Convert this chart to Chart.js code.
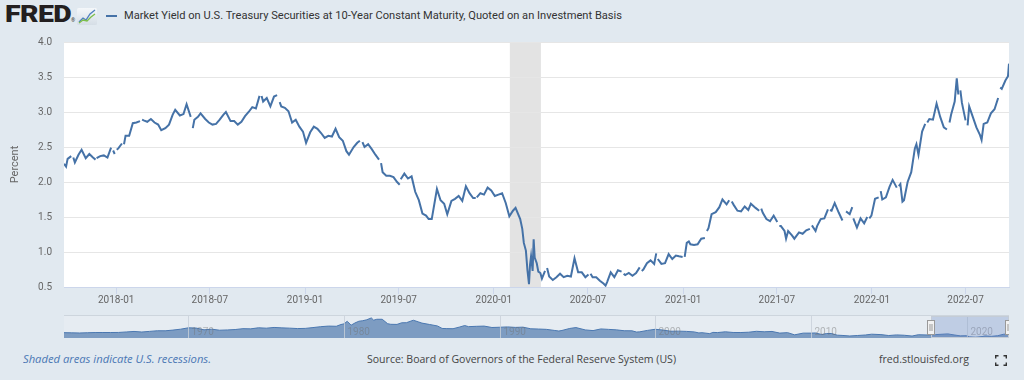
<!DOCTYPE html>
<html>
<head>
<meta charset="utf-8">
<script src="https://cdn.jsdelivr.net/npm/chart.js@4.4.0/dist/chart.umd.min.js"></script>
<style>
  html, body { margin: 0; padding: 0; }
  body { width: 1024px; height: 380px; background: #e1e9f0; position: relative; overflow: hidden; font-family: 'Open Sans', sans-serif; }
  .txt { position: absolute; white-space: nowrap; transform-origin: 0 50%; line-height: 14px; }
  #main { position: absolute; left: 0; top: 0; }
  #navFrame { position: absolute; left: 64px; top: 315px; width: 945px; height: 23px; background: #e6ecf2; border-top: 1px solid #cdd5dd; box-sizing: border-box; }
  #nav { position: absolute; left: 64px; top: 316px; }
</style>
</head>
<body>

<!-- header -->
<div class="txt" id="logo" data-w="66" style="left:5px; top:6px; line-height:18px; font-family:Roboto; font-weight:900; font-size:23px; color:#231f20; letter-spacing:-0.5px;">FRED</div>
<div class="txt" style="left:71px; top:17px; line-height:6px; font-size:5px; color:#231f20;">®</div>
<svg style="position:absolute; left:77px; top:8px;" width="20" height="17" viewBox="0 0 20 17">
  <defs><linearGradient id="g" x1="0" y1="0" x2="0" y2="1"><stop offset="0" stop-color="#f4f7fa"/><stop offset="1" stop-color="#d5dee6"/></linearGradient></defs>
  <rect x="0" y="0" width="20" height="17" rx="1.5" fill="url(#g)"/>
  <polyline points="2,14 6,10 9,12 13,6 18,2" fill="none" stroke="#4f7fbf" stroke-width="1.3"/>
  <polyline points="2,15 6,12 10,13 14,9 18,6" fill="none" stroke="#7cbf4a" stroke-width="1.3"/>
</svg>
<div style="position:absolute; left:106px; top:15px; width:11px; height:2px; background:#4572a7;"></div>
<div class="txt" data-w="498" style="left:124px; top:9px; font-family:Roboto; font-size:11px; color:#333;">Market Yield on U.S. Treasury Securities at 10-Year Constant Maturity, Quoted on an Investment Basis</div>

<canvas id="main" width="1024" height="310"></canvas>

<div id="navFrame"></div>
<canvas id="nav" width="945" height="22"></canvas>

<!-- footer -->
<div class="txt" data-w="188" style="left:23px; top:352px; font-size:11px; font-style:italic; color:#4a77b4;">Shaded areas indicate U.S. recessions.</div>
<div class="txt" data-w="309" style="left:367px; top:352px; font-size:11px; color:#444;">Source: Board of Governors of the Federal Reserve System (US)</div>
<div class="txt" data-w="90" style="left:879px; top:352px; font-size:11px; color:#444;">fred.stlouisfed.org</div>
<svg style="position:absolute; left:995px; top:355px;" width="12" height="11" viewBox="0 0 12 11">
  <path d="M0.7,3.5 V0.7 H3.5 M8.5,0.7 H11.3 V3.5 M11.3,7.5 V10.3 H8.5 M3.5,10.3 H0.7 V7.5" fill="none" stroke="#333" stroke-width="1.4"/>
</svg>

<script>
// --- data: 10-year treasury yield (percent) ---
const obsDates = [
  '2017-09-22','2017-09-26','2017-09-29',
  '2017-10-06','2017-10-09','2017-10-10','2017-10-13','2017-10-20','2017-10-26',
  '2017-11-03','2017-11-10','2017-11-17','2017-11-22','2017-11-23','2017-11-24',
  '2017-12-01','2017-12-08','2017-12-15','2017-12-22','2017-12-25','2017-12-26','2017-12-29',
  '2018-01-01','2018-01-02','2018-01-05','2018-01-12','2018-01-15','2018-01-16','2018-01-19','2018-01-26',
  '2018-02-02','2018-02-09','2018-02-16','2018-02-19','2018-02-20','2018-02-23',
  '2018-03-02','2018-03-09','2018-03-16','2018-03-23','2018-03-29',
  '2018-04-06','2018-04-13','2018-04-20','2018-04-25',
  '2018-05-04','2018-05-11','2018-05-17','2018-05-25','2018-05-28','2018-05-29',
  '2018-06-01','2018-06-08','2018-06-13','2018-06-22','2018-06-29',
  '2018-07-06','2018-07-13','2018-07-20','2018-07-27',
  '2018-08-01','2018-08-10','2018-08-17','2018-08-24','2018-08-31',
  '2018-09-07','2018-09-14','2018-09-21','2018-09-28',
  '2018-10-05','2018-10-08','2018-10-09','2018-10-12','2018-10-19','2018-10-26',
  '2018-11-02','2018-11-08','2018-11-12','2018-11-13','2018-11-16','2018-11-23','2018-11-30',
  '2018-12-07','2018-12-14','2018-12-21','2018-12-28',
  '2019-01-03','2019-01-11','2019-01-18','2019-01-25',
  '2019-02-01','2019-02-08','2019-02-15','2019-02-22',
  '2019-03-01','2019-03-08','2019-03-15','2019-03-22','2019-03-27',
  '2019-04-05','2019-04-12','2019-04-17','2019-04-19','2019-04-22','2019-04-26',
  '2019-05-03','2019-05-10','2019-05-17','2019-05-24','2019-05-27','2019-05-28','2019-05-31',
  '2019-06-07','2019-06-14','2019-06-21','2019-06-28',
  '2019-07-03','2019-07-04','2019-07-05','2019-07-12','2019-07-19','2019-07-26',
  '2019-08-02','2019-08-09','2019-08-16','2019-08-23','2019-08-28',
  '2019-09-03','2019-09-13','2019-09-20','2019-09-27',
  '2019-10-03','2019-10-11','2019-10-18','2019-10-25',
  '2019-11-01','2019-11-08','2019-11-15','2019-11-22','2019-11-27','2019-11-28','2019-11-29',
  '2019-12-06','2019-12-13','2019-12-20','2019-12-27',
  '2020-01-03','2020-01-10','2020-01-17','2020-01-24','2020-01-31',
  '2020-02-07','2020-02-12','2020-02-21','2020-02-25','2020-02-28',
  '2020-03-03','2020-03-06','2020-03-09','2020-03-11','2020-03-13','2020-03-16','2020-03-18','2020-03-20','2020-03-24','2020-03-27','2020-03-31',
  '2020-04-03','2020-04-09','2020-04-10','2020-04-13','2020-04-17','2020-04-24',
  '2020-05-01','2020-05-08','2020-05-15','2020-05-22','2020-05-29',
  '2020-06-05','2020-06-12','2020-06-19','2020-06-26',
  '2020-07-02','2020-07-03','2020-07-06','2020-07-10','2020-07-17','2020-07-24','2020-07-31',
  '2020-08-04','2020-08-07','2020-08-14','2020-08-21','2020-08-28',
  '2020-09-04','2020-09-07','2020-09-08','2020-09-11','2020-09-18','2020-09-25',
  '2020-10-02','2020-10-09','2020-10-12','2020-10-13','2020-10-16','2020-10-23','2020-10-30',
  '2020-11-06','2020-11-10','2020-11-11','2020-11-13','2020-11-20','2020-11-27',
  '2020-12-04','2020-12-11','2020-12-18','2020-12-24','2020-12-31',
  '2021-01-01','2021-01-04','2021-01-08','2021-01-12','2021-01-15','2021-01-22','2021-01-29',
  '2021-02-05','2021-02-12','2021-02-15','2021-02-16','2021-02-19','2021-02-25',
  '2021-03-05','2021-03-12','2021-03-18','2021-03-26','2021-03-31',
  '2021-04-02','2021-04-05','2021-04-09','2021-04-16','2021-04-23','2021-04-30',
  '2021-05-07','2021-05-12','2021-05-21','2021-05-28','2021-05-31',
  '2021-06-01','2021-06-04','2021-06-11','2021-06-18','2021-06-25',
  '2021-07-02','2021-07-05','2021-07-06','2021-07-09','2021-07-16','2021-07-19','2021-07-23','2021-07-30',
  '2021-08-04','2021-08-13','2021-08-20','2021-08-27',
  '2021-09-03','2021-09-06','2021-09-07','2021-09-14','2021-09-17','2021-09-24',
  '2021-10-01','2021-10-08','2021-10-11','2021-10-12','2021-10-15','2021-10-21','2021-10-29',
  '2021-11-05','2021-11-11','2021-11-12','2021-11-19','2021-11-24','2021-11-25','2021-11-26',
  '2021-12-03','2021-12-10','2021-12-17','2021-12-23','2021-12-24','2021-12-27','2021-12-31',
  '2022-01-07','2022-01-14','2022-01-17','2022-01-18','2022-01-21','2022-01-28',
  '2022-02-04','2022-02-10','2022-02-18','2022-02-21','2022-02-22','2022-02-25',
  '2022-03-01','2022-03-04','2022-03-11','2022-03-18','2022-03-25','2022-03-28',
  '2022-04-01','2022-04-08','2022-04-14','2022-04-15','2022-04-18','2022-04-22','2022-04-29',
  '2022-05-06','2022-05-13','2022-05-20','2022-05-26','2022-05-30','2022-05-31',
  '2022-06-03','2022-06-10','2022-06-14','2022-06-17','2022-06-20','2022-06-21','2022-06-24',
  '2022-07-01','2022-07-04','2022-07-05','2022-07-08','2022-07-15','2022-07-22','2022-07-29',
  '2022-08-01','2022-08-05','2022-08-12','2022-08-19','2022-08-26',
  '2022-09-02','2022-09-05','2022-09-06','2022-09-09','2022-09-16','2022-09-21','2022-09-23'
];
const obsYields = [
  2.26, 2.22, 2.33,
  2.37, null, 2.35, 2.28, 2.39, 2.46,
  2.34, 2.40, 2.35, 2.32, null, 2.34,
  2.37, 2.38, 2.35, 2.49, null, 2.45, 2.40,
  null, 2.46, 2.48, 2.55, null, 2.54, 2.66, 2.66,
  2.84, 2.85, 2.87, null, 2.89, 2.88,
  2.86, 2.90, 2.85, 2.82, 2.74,
  2.77, 2.82, 2.96, 3.03,
  2.95, 2.97, 3.11, 2.93, null, 2.77,
  2.89, 2.93, 2.98, 2.90, 2.85,
  2.82, 2.83, 2.89, 2.96,
  3.00, 2.87, 2.87, 2.82, 2.86,
  2.94, 3.00, 3.07, 3.05,
  3.23, null, 3.23, 3.15, 3.20, 3.08,
  3.22, 3.24, null, 3.14, 3.08, 3.06, 3.01,
  2.85, 2.89, 2.79, 2.72,
  2.56, 2.71, 2.79, 2.76,
  2.70, 2.63, 2.66, 2.65,
  2.76, 2.64, 2.59, 2.44, 2.39,
  2.50, 2.56, 2.59, null, 2.57, 2.50,
  2.54, 2.47, 2.39, 2.32, null, 2.27, 2.14,
  2.09, 2.09, 2.07, 2.00,
  1.96, null, 2.04, 2.12, 2.05, 2.08,
  1.86, 1.74, 1.55, 1.52, 1.47,
  1.47, 1.90, 1.74, 1.69,
  1.54, 1.73, 1.76, 1.80,
  1.73, 1.94, 1.84, 1.77, 1.77, null, 1.78,
  1.84, 1.82, 1.92, 1.88,
  1.80, 1.82, 1.84, 1.70, 1.51,
  1.59, 1.63, 1.47, 1.33, 1.13,
  1.02, 0.74, 0.54, 0.82, 0.94, 0.73, 1.18, 0.92, 0.84, 0.72, 0.70,
  0.62, 0.73, null, 0.77, 0.65, 0.60,
  0.64, 0.69, 0.64, 0.66, 0.65,
  0.91, 0.71, 0.71, 0.64,
  0.68, null, 0.69, 0.64, 0.64, 0.59, 0.55,
  0.52, 0.57, 0.71, 0.64, 0.74,
  0.72, null, 0.69, 0.67, 0.70, 0.66,
  0.70, 0.78, null, 0.73, 0.75, 0.84, 0.88,
  0.83, 0.98, null, 0.90, 0.83, 0.84,
  0.97, 0.90, 0.95, 0.94, 0.93,
  null, 0.93, 1.13, 1.15, 1.11, 1.10, 1.11,
  1.19, 1.20, null, 1.30, 1.34, 1.54,
  1.57, 1.64, 1.75, 1.68, 1.74,
  null, 1.72, 1.67, 1.59, 1.58, 1.65,
  1.60, 1.69, 1.63, 1.59, null,
  1.62, 1.56, 1.47, 1.44, 1.52,
  1.43, null, 1.37, 1.37, 1.30, 1.19, 1.30, 1.24,
  1.19, 1.28, 1.26, 1.31,
  1.33, null, 1.38, 1.30, 1.37, 1.47,
  1.48, 1.61, null, 1.60, 1.59, 1.70, 1.56,
  1.45, null, 1.58, 1.54, 1.64, null, 1.48,
  1.35, 1.48, 1.41, 1.50, null, 1.48, 1.52,
  1.76, 1.78, null, 1.87, 1.75, 1.78,
  1.93, 2.03, 1.92, null, 1.94, 1.97,
  1.72, 1.74, 2.00, 2.14, 2.48, 2.54,
  2.39, 2.72, 2.83, null, 2.85, 2.90, 2.89,
  3.12, 2.93, 2.78, 2.75, null, 2.85,
  2.96, 3.15, 3.48, 3.25, null, 3.31, 3.13,
  2.88, null, 2.81, 3.08, 2.93, 2.78, 2.67,
  2.60, 2.83, 2.85, 2.98, 3.04,
  3.20, null, 3.35, 3.33, 3.45, 3.51, 3.69
];

const startDate = '2017-09-22';
const endDate = '2022-09-23';
const recessionStart = '2020-02-01';
const recessionEnd = '2020-04-01';
const xTickLabels = ['2018-01', '2018-07', '2019-01', '2019-07', '2020-01', '2020-07', '2021-01', '2021-07', '2022-01', '2022-07'];
const yTicks = [0.5, 1.0, 1.5, 2.0, 2.5, 3.0, 3.5, 4.0];

// long history for the navigator strip (decimal year, percent)
const navYears = [
  1962.0, 1962.5, 1963.0, 1963.5, 1964.0, 1964.5, 1965.0, 1965.5, 1966.0, 1966.5,
  1967.0, 1967.5, 1968.0, 1968.5, 1969.0, 1969.5, 1970.0, 1970.5, 1971.0, 1971.5,
  1972.0, 1972.5, 1973.0, 1973.5, 1974.0, 1974.5, 1975.0, 1975.5, 1976.0, 1976.5,
  1977.0, 1977.5, 1978.0, 1978.5, 1979.0, 1979.5, 1979.8, 1980.0, 1980.2, 1980.45,
  1980.7, 1980.95, 1981.2, 1981.45, 1981.75, 1981.9, 1982.1, 1982.45, 1982.8, 1983.0,
  1983.4, 1983.7, 1984.0, 1984.45, 1984.8, 1985.0, 1985.5, 1986.0, 1986.3, 1986.6,
  1987.0, 1987.4, 1987.75, 1988.0, 1988.5, 1989.0, 1989.5, 1990.0, 1990.5, 1991.0,
  1991.5, 1992.0, 1992.5, 1993.0, 1993.5, 1993.8, 1994.0, 1994.5, 1994.9, 1995.5,
  1996.0, 1996.5, 1997.0, 1997.5, 1998.0, 1998.5, 1998.8, 1999.0, 1999.5, 2000.0,
  2000.5, 2001.0, 2001.5, 2002.0, 2002.5, 2002.8, 2003.0, 2003.5, 2003.7, 2004.0,
  2004.5, 2005.0, 2005.5, 2006.0, 2006.5, 2007.0, 2007.5, 2008.0, 2008.5, 2008.95,
  2009.5, 2010.0, 2010.3, 2010.7, 2011.0, 2011.3, 2011.7, 2012.0, 2012.5, 2013.0,
  2013.5, 2013.9, 2014.5, 2015.0, 2015.5, 2016.0, 2016.5, 2016.9, 2017.5, 2018.0,
  2018.8, 2019.0, 2019.6, 2020.0, 2020.2, 2020.6, 2021.0, 2021.2, 2021.6, 2022.0,
  2022.4, 2022.55, 2022.73
];
const navYields = [
  4.08, 3.95, 3.83, 4.02, 4.17, 4.20, 4.19, 4.24, 4.61, 5.00,
  4.58, 5.05, 5.53, 5.50, 6.04, 6.75, 7.79, 7.57, 6.24, 6.73,
  5.95, 6.15, 6.46, 7.13, 6.99, 7.81, 7.50, 8.06, 7.74, 7.52,
  7.21, 7.33, 7.96, 8.64, 9.10, 8.95, 10.30, 10.80, 12.75, 9.78,
  11.50, 12.80, 13.20, 13.90, 15.32, 13.60, 14.30, 14.30, 10.90, 10.46,
  10.38, 11.60, 11.67, 13.56, 12.20, 11.38, 10.30, 9.19, 7.30, 7.17,
  7.08, 8.30, 9.50, 8.67, 8.92, 9.09, 8.02, 8.21, 8.47, 8.09,
  8.27, 7.03, 6.84, 6.60, 5.80, 5.33, 5.75, 7.30, 7.96, 6.17,
  5.65, 6.91, 6.58, 6.22, 5.54, 5.50, 4.53, 4.72, 5.81, 6.66,
  6.03, 5.16, 5.24, 5.04, 4.65, 3.87, 4.05, 3.33, 4.29, 4.15,
  4.73, 4.22, 4.18, 4.42, 5.11, 4.76, 5.00, 3.74, 4.10, 2.42,
  3.72, 3.73, 3.85, 2.65, 3.39, 3.46, 2.15, 1.97, 1.53, 1.91,
  2.30, 2.90, 2.60, 1.88, 2.36, 2.09, 1.50, 2.49, 2.30, 2.58,
  3.15, 2.71, 1.63, 1.76, 0.87, 0.62, 1.08, 1.61, 1.28, 1.76,
  2.90, 2.90, 3.50
];
const navTickLabels = ['1970', '1980', '1990', '2000', '2010', '2020'];
const navSelection = [2017.72, 2022.73];

function toTime(s) {
  const p = s.split('-').map(Number);
  return Date.UTC(p[0], p[1] - 1, p[2] || 1);
}

// fit the html text lines to the widths measured on the reference
document.querySelectorAll('.txt[data-w]').forEach(el => {
  const w = el.getBoundingClientRect().width;
  el.style.transform = 'scaleX(' + (Number(el.dataset.w) / w) + ')';
});

Chart.defaults.font.family = "Roboto, 'Open Sans', sans-serif";
Chart.defaults.font.size = 10;
Chart.defaults.color = '#666';

// --- main chart ---
const plotBackground = {
  id: 'plotBackground',
  beforeDraw(chart) {
    const { ctx, chartArea: a, scales: { x } } = chart;
    ctx.save();
    ctx.fillStyle = '#ffffff';
    ctx.fillRect(a.left, a.top, a.right - a.left, a.bottom - a.top);
    const x0 = x.getPixelForValue(toTime(recessionStart));
    const x1 = x.getPixelForValue(toTime(recessionEnd));
    ctx.fillStyle = '#e3e3e3';
    ctx.fillRect(x0, a.top, x1 - x0, a.bottom - a.top);
    ctx.restore();
  }
};

const points = obsDates.map((d, i) => ({ x: toTime(d), y: obsYields[i] }));

new Chart(document.getElementById('main'), {
  type: 'line',
  data: {
    datasets: [{
      data: points,
      borderColor: '#4572a7',
      borderWidth: 2,
      pointRadius: 0,
      tension: 0,
      spanGaps: false
    }]
  },
  options: {
    responsive: false,
    animation: false,
    layout: { padding: { left: 0, right: 15, top: 42, bottom: 0 } },
    plugins: { legend: { display: false }, tooltip: { enabled: false } },
    scales: {
      x: {
        type: 'linear',
        min: toTime(startDate),
        max: toTime(endDate),
        afterBuildTicks: axis => { axis.ticks = xTickLabels.map(l => ({ value: toTime(l) })); },
        afterFit: axis => { axis.height = 23; },
        grid: { drawOnChartArea: false, drawTicks: true, tickLength: 7, color: '#ccd6eb' },
        border: { color: '#ccd6eb' },
        ticks: {
          padding: 0,
          maxRotation: 0,
          autoSkip: false,
          callback: v => {
            const d = new Date(v);
            return d.getUTCFullYear() + '-' + String(d.getUTCMonth() + 1).padStart(2, '0');
          }
        }
      },
      y: {
        min: 0.5,
        max: 4.0,
        afterBuildTicks: axis => { axis.ticks = yTicks.map(v => ({ value: v })); },
        afterFit: axis => { axis.width = 64; },
        grid: { color: '#e6e6e6', drawTicks: false },
        border: { display: false },
        ticks: { padding: 12, callback: v => v.toFixed(1) },
        title: { display: true, text: 'Percent', font: { size: 11 }, padding: { top: 9, bottom: 0 } }
      }
    }
  },
  plugins: [plotBackground]
});

// --- navigator strip ---
const navOverlay = {
  id: 'navOverlay',
  afterDatasetsDraw(chart) {
    const { ctx, chartArea: a, scales: { x } } = chart;
    ctx.save();
    // decade lines and labels
    navTickLabels.forEach(l => {
      const px = Math.round(x.getPixelForValue(Number(l))) + 0.5;
      ctx.strokeStyle = 'rgba(200,208,216,0.8)';
      ctx.lineWidth = 1;
      ctx.beginPath();
      ctx.moveTo(px, a.top);
      ctx.lineTo(px, a.bottom);
      ctx.stroke();
      ctx.fillStyle = 'rgba(110,110,110,0.45)';
      ctx.font = "10px Roboto, 'Open Sans', sans-serif";
      ctx.textBaseline = 'alphabetic';
      ctx.fillText(l, px + 3, 18.5);
    });
    // selected window
    const s0 = x.getPixelForValue(navSelection[0]);
    const s1 = x.getPixelForValue(navSelection[1]);
    ctx.fillStyle = 'rgba(102,133,194,0.3)';
    ctx.fillRect(s0, a.top, s1 - s0, a.bottom - a.top);
    ctx.strokeStyle = '#c4ccd6';
    ctx.strokeRect(s0 + 0.5, a.top + 0.5, s1 - s0 - 1, a.bottom - a.top - 1);
    // handles
    [s0, s1].forEach(hx => {
      const left = Math.round(hx) - 4;
      ctx.fillStyle = '#f2f2f2';
      ctx.fillRect(left, 4, 7, 14);
      ctx.strokeStyle = '#999';
      ctx.strokeRect(left + 0.5, 4.5, 7, 14);
      ctx.beginPath();
      ctx.moveTo(left + 3, 8); ctx.lineTo(left + 3, 15);
      ctx.moveTo(left + 5, 8); ctx.lineTo(left + 5, 15);
      ctx.stroke();
    });
    ctx.restore();
  }
};

new Chart(document.getElementById('nav'), {
  type: 'line',
  data: {
    datasets: [{
      data: navYears.map((y, i) => ({ x: y, y: navYields[i] })),
      borderColor: '#4a77b0',
      borderWidth: 1,
      backgroundColor: 'rgba(69,114,167,0.65)',
      fill: 'origin',
      pointRadius: 0,
      tension: 0
    }]
  },
  options: {
    responsive: false,
    animation: false,
    layout: { padding: 0 },
    plugins: { legend: { display: false }, tooltip: { enabled: false } },
    scales: {
      x: { type: 'linear', min: 1962, max: navSelection[1], display: false },
      y: { min: 0, max: 16.8, display: false }
    }
  },
  plugins: [navOverlay]
});
</script>
</body>
</html>
